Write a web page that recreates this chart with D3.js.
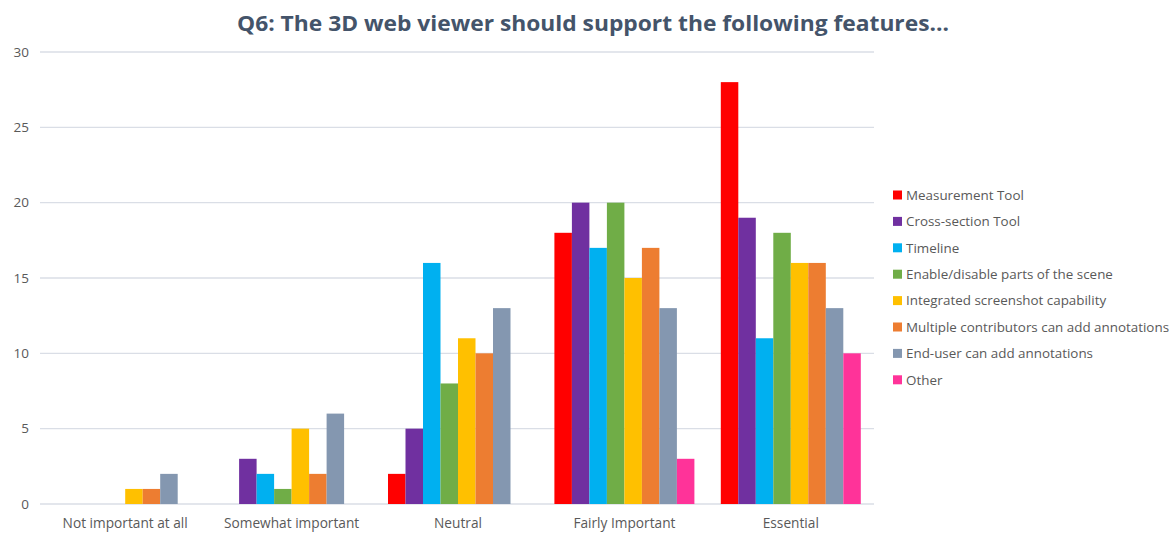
<!DOCTYPE html>
<html>
<head>
<meta charset="utf-8">
<script src="https://cdn.jsdelivr.net/npm/d3@7"></script>
<style>
  html, body { margin: 0; padding: 0; background: #fff; }
  svg { display: block; }
</style>
</head>
<body>
<svg id="chart" width="1175" height="533"></svg>
<script>
// Survey responses: importance rating per feature
const categories = ["Not important at all", "Somewhat important", "Neutral", "Fairly Important", "Essential"];
const seriesNames = [
  "Measurement Tool",
  "Cross-section Tool",
  "Timeline",
  "Enable/disable parts of the scene",
  "Integrated screenshot capability",
  "Multiple contributors can add annotations",
  "End-user can add annotations",
  "Other"
];
const seriesColors = ["#ff0000", "#7030a0", "#00b0f0", "#70ad47", "#ffc000", "#ed7d31", "#8497b0", "#ff3399"];
const measurementTool   = [0, 0, 2, 18, 28];
const crossSectionTool  = [0, 3, 5, 20, 19];
const timeline          = [0, 2, 16, 17, 11];
const enableDisable     = [0, 1, 8, 20, 18];
const screenshot        = [1, 5, 11, 15, 16];
const multiContributors = [1, 2, 10, 17, 16];
const endUserAnnot      = [2, 6, 13, 13, 13];
const other             = [0, 0, 0, 3, 10];
const yTicks = [0, 5, 10, 15, 20, 25, 30];

const seriesValues = [measurementTool, crossSectionTool, timeline, enableDisable, screenshot, multiContributors, endUserAnnot, other];

const svg = d3.select("#chart");
const plotLeft = 42, plotRight = 874, plotTop = 52, plotBottom = 504;

const x0 = d3.scaleBand().domain(categories).range([plotLeft, plotRight]).paddingInner(0).paddingOuter(0);
const x1 = d3.scaleBand().domain(seriesNames).range([0, 140]);
const y = d3.scaleLinear().domain([0, 30]).range([plotBottom, plotTop]);

// Title
svg.append("text")
  .attr("x", 593).attr("y", 31)
  .attr("text-anchor", "middle")
  .attr("font-family", "'Open Sans', sans-serif")
  .attr("font-weight", "bold")
  .attr("font-size", 22)
  .attr("fill", "#44546a")
  .attr("textLength", 712)
  .attr("lengthAdjust", "spacingAndGlyphs")
  .text("Q6: The 3D web viewer should support the following features…");

// Gridlines
svg.append("g")
  .selectAll("line")
  .data(yTicks)
  .join("line")
  .attr("x1", plotLeft - 2).attr("x2", plotRight)
  .attr("y1", d => y(d)).attr("y2", d => y(d))
  .attr("stroke", "#dadee6")
  .attr("stroke-width", 1.3);

// Y axis labels
const yAxis = d3.axisLeft(y).tickValues(yTicks).tickSize(0).tickPadding(0);
const yg = svg.append("g").attr("transform", `translate(${plotLeft - 13},0)`).call(yAxis);
yg.select(".domain").remove();
yg.selectAll("text")
  .attr("font-family", "'Open Sans', sans-serif")
  .attr("font-size", 13.5)
  .attr("fill", "#595959");

// X axis labels
const xAxis = d3.axisBottom(x0).tickSize(0).tickPadding(0);
const xg = svg.append("g").attr("transform", `translate(0,${plotBottom + 14})`).call(xAxis);
xg.select(".domain").remove();
xg.selectAll("text")
  .attr("font-family", "'Open Sans', sans-serif")
  .attr("font-size", 13.7)
  .attr("fill", "#595959");

// Bars
const groups = svg.append("g")
  .selectAll("g")
  .data(categories)
  .join("g")
  .attr("transform", c => `translate(${x0(c) + (x0.bandwidth() - 140) / 2},0)`);

groups.selectAll("rect")
  .data((c, ci) => seriesNames.map((s, si) => ({ s, si, v: seriesValues[si][ci] })).filter(d => d.v > 0))
  .join("rect")
  .attr("x", d => x1(d.s))
  .attr("width", x1.bandwidth())
  .attr("y", d => y(d.v))
  .attr("height", d => y(0) - y(d.v))
  .attr("fill", d => seriesColors[d.si]);

// Legend
const legend = svg.append("g").attr("transform", "translate(893,195)");
const items = legend.selectAll("g")
  .data(seriesNames)
  .join("g")
  .attr("transform", (d, i) => `translate(0,${i * 26.4})`);
items.append("rect")
  .attr("x", 0).attr("y", -4.5)
  .attr("width", 9).attr("height", 9)
  .attr("fill", (d, i) => seriesColors[i]);
items.append("text")
  .attr("x", 13).attr("y", 0)
  .attr("dy", "0.35em")
  .attr("font-family", "'Open Sans', sans-serif")
  .attr("font-size", 13.4)
  .attr("fill", "#595959")
  .text(d => d);
</script>
</body>
</html>
